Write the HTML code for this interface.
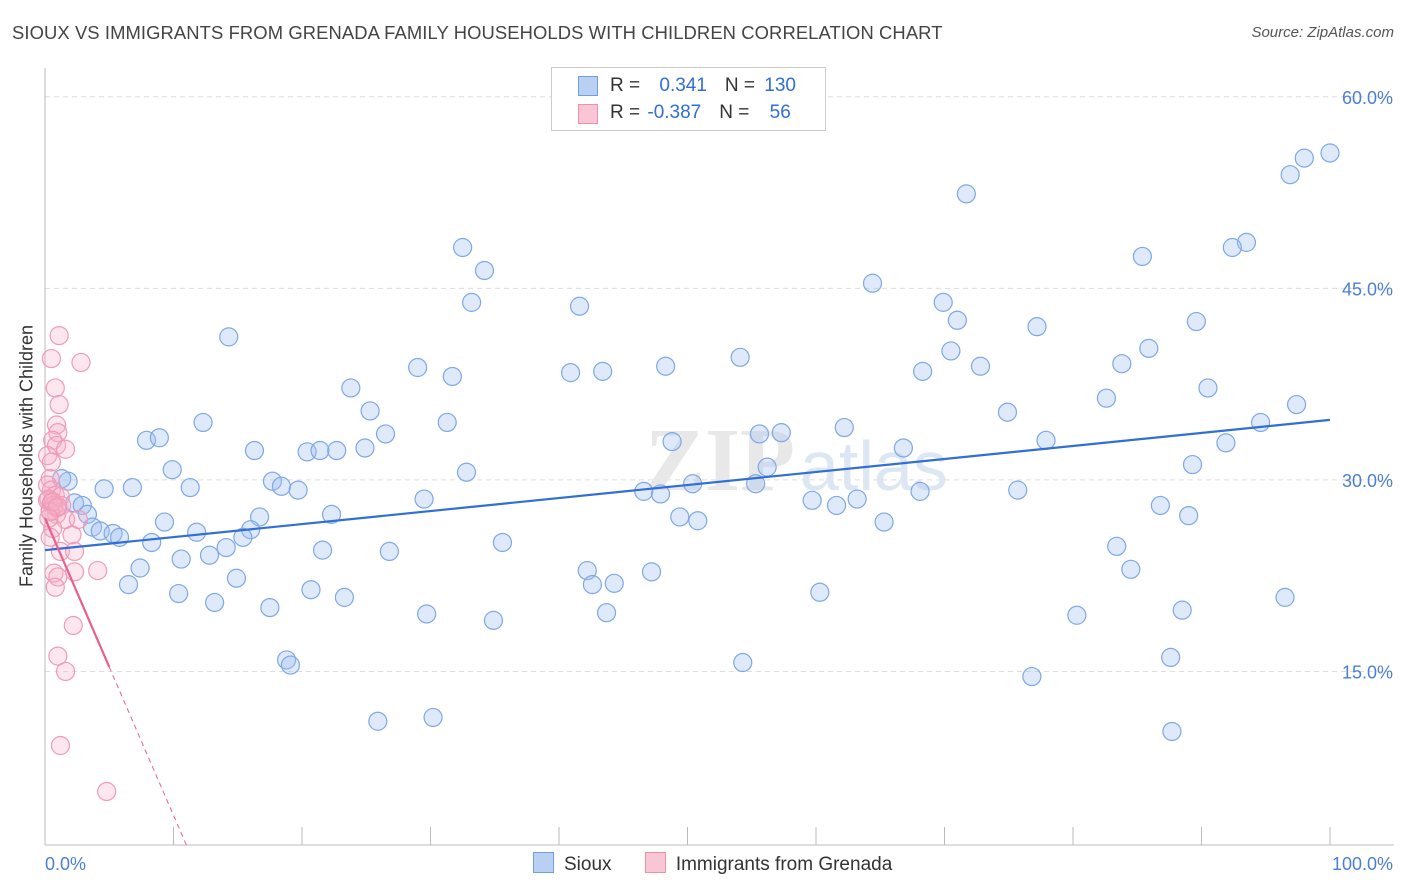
<!DOCTYPE html>
<html><head><meta charset="utf-8"><style>
body{margin:0;background:#fff;font-family:"Liberation Sans",sans-serif;}
#wrap{position:relative;width:1406px;height:892px;overflow:hidden;}
</style></head><body>
<div id="wrap">
<div style="position:absolute;left:12px;top:22px;font-size:18.4px;color:#444;letter-spacing:0.1px">SIOUX VS IMMIGRANTS FROM GRENADA FAMILY HOUSEHOLDS WITH CHILDREN CORRELATION CHART</div>
<div style="position:absolute;right:12px;top:24px;font-size:15px;color:#555;font-style:italic">Source: ZipAtlas.com</div>
<svg id="svg" width="1406" height="892" style="position:absolute;left:0;top:0"></svg>
</div>
<script>
const yTicks=[15,30,45,60];
const yTickLabels=["15.0%","30.0%","45.0%","60.0%"];
const xTickLabels=["0.0%","100.0%"];
const siouxX=[100,98,96.9,71.7,93.5,92.4,85.4,32.5,34.2,64.4,33.2,41.6,69.9,71,77.2,89.6,14.3,70.5,54.1,85.9,29,31.7,40.9,43.4,48.3,68.3,72.8,83.8,90.5,23.8,25.3,82.6,97.4,74.9,12.3,31.3,94.6,62.2,7.9,8.9,26.5,55.6,57.3,48.8,77.9,91.9,16.3,20.4,21.4,22.7,24.9,66.8,9.9,32.8,56.2,89.3,4.6,6.8,11.3,17.7,18.4,19.7,29.5,46.6,47.9,50.4,55.3,59.7,61.6,63.2,68.1,75.7,86.8,89,49.4,50.8,65.3,22.3,16.7,9.3,11.8,16,15.4,14.1,8.3,12.8,10.6,21.6,26.8,35.6,83.4,7.4,14.9,6.5,42.2,42.6,44.3,47.2,84.5,10.4,13.2,20.7,23.3,17.5,29.7,34.9,43.7,60.3,80.3,88.5,96.5,18.8,19.1,54.3,76.8,87.6,25.9,30.2,87.7,1.8,2.3,2.9,3.3,3.7,4.3,5.3,5.8,1.3];
const siouxY=[55.6,55.2,53.9,52.4,48.6,48.2,47.5,48.2,46.4,45.4,43.9,43.6,43.9,42.5,42,42.4,41.2,40.1,39.6,40.3,38.8,38.1,38.4,38.5,38.9,38.5,38.9,39.1,37.2,37.2,35.4,36.4,35.9,35.3,34.5,34.5,34.5,34.1,33.1,33.3,33.6,33.6,33.7,33,33.1,32.9,32.3,32.2,32.3,32.3,32.5,32.5,30.8,30.6,31,31.2,29.3,29.4,29.4,29.9,29.5,29.2,28.5,29.1,28.9,29.7,29.7,28.4,28,28.5,29.1,29.2,28,27.2,27.1,26.8,26.7,27.3,27.1,26.7,25.9,26.1,25.5,24.7,25.1,24.1,23.8,24.5,24.4,25.1,24.8,23.1,22.3,21.8,22.9,21.8,21.9,22.8,23,21.1,20.4,21.4,20.8,20,19.5,19,19.6,21.2,19.4,19.8,20.8,15.9,15.5,15.7,14.6,16.1,11.1,11.4,10.3,29.9,28.2,28,27.3,26.3,26,25.8,25.5,30.1];
const grenX=[1.1,0.5,2.8,0.8,1.1,0.9,1,0.6,0.9,1.6,0.2,0.5,0.4,0.2,0.5,0.8,1.2,0.2,1.3,0.4,0.9,1.6,2.6,0.6,0.4,2.1,1.2,2.3,4.1,0.7,1,2.3,0.8,2.2,1,1.6,1.2,4.8,0.3,0.5,0.7,0.9,0.4,0.6,1.0,0.3];
const grenY=[41.3,39.5,39.2,37.2,35.9,34.3,33.7,33.1,32.7,32.4,31.9,31.4,30.1,29.6,29.2,28.8,28.7,28.4,28,27.6,27.3,26.9,26.9,26.2,25.5,25.7,24.4,24.4,22.9,22.7,22.4,22.8,21.6,18.6,16.2,15,9.2,5.6,28.5,28.2,28.0,27.8,27.5,28.3,27.9,27.0];
const siouxTrend=[24.5,34.7];
const grenTrendStart=27,grenTrendEndSolid=5,grenSlope=-2.33;
const svg=document.getElementById('svg');const NS='http://www.w3.org/2000/svg';
const X=v=>45+v*12.85, Y=v=>863-v*12.77;
function mk(t,a){const e=document.createElementNS(NS,t);for(const k in a)e.setAttribute(k,a[k]);svg.appendChild(e);return e;}
yTicks.forEach((t,i)=>{let l=mk('line',{x1:45,x2:1394,y1:Y(t),y2:Y(t),stroke:'#ddd','stroke-dasharray':'5,4'});


let tx=mk('text',{x:1393,y:Y(t)+7,'text-anchor':'end','font-size':18,fill:'#4a7fd4','font-family':'Liberation Sans'});tx.textContent=yTickLabels[i];

});
mk('line',{x1:45,x2:45,y1:68,y2:845,stroke:'#bbb'});
mk('line',{x1:45,x2:1394,y1:845,y2:845,stroke:'#bbb'});
for(let i=0;i<=10;i++){let l=mk('line',{x1:X(i*10),x2:X(i*10),y1:827,y2:845,stroke:'#bbb'});

}
[[45,'start',0],[1393,'end',1]].forEach(([x,a,i])=>{let t=mk('text',{x:x,y:870,'text-anchor':a,'font-size':18,fill:'#4a7fd4','font-family':'Liberation Sans'});t.textContent=xTickLabels[i];

});
let wm=mk('text',{x:720,y:490,'text-anchor':'middle','font-size':90,fill:'#e8e8e8','font-family':'Liberation Serif','font-weight':'bold'});wm.textContent='ZIP';


let wm2=mk('text',{x:800,y:490,'font-size':70,fill:'#dde6f3','font-family':'Liberation Sans'});wm2.textContent='atlas';


siouxX.forEach((x,i)=>{let c=mk('circle',{cx:X(x),cy:Y(siouxY[i]),r:9,fill:'rgba(160,192,238,0.35)',stroke:'#7ea8e6','stroke-width':1.2});

});
grenX.forEach((x,i)=>{let c=mk('circle',{cx:X(x),cy:Y(grenY[i]),r:9,fill:'rgba(245,175,198,0.3)',stroke:'#f09ab8','stroke-width':1.2});

});
let bl=mk('line',{x1:X(0),y1:Y(siouxTrend[0]),x2:X(100),y2:Y(siouxTrend[1]),stroke:'#2f6fd6','stroke-width':2.2});


let pl=mk('line',{x1:X(0),y1:Y(grenTrendStart),x2:X(grenTrendEndSolid),y2:Y(grenTrendStart+grenSlope*grenTrendEndSolid),stroke:'#e8608c','stroke-width':2.2});


let pd=mk('line',{x1:X(grenTrendEndSolid),y1:Y(grenTrendStart+grenSlope*grenTrendEndSolid),x2:X(11),y2:845,stroke:'#e8608c','stroke-width':1,'stroke-dasharray':'5,4'});


</script>
<div style="position:absolute;left:27px;top:456px;transform:translate(-50%,-50%) rotate(-90deg);font-size:18px;color:#333;white-space:nowrap">Family Households with Children</div>
<div style="position:absolute;left:551px;top:67px;width:273px;height:62px;border:1px solid #ccc;background:#fff;font-size:19px;color:#333">
 <div style="position:absolute;left:26px;top:8px;width:18px;height:18px;background:#b9d0f2;border:1px solid #6f9ee3"></div>
 <div style="position:absolute;left:58px;top:7px">R = <span style="color:#2f6fd6;margin-left:14px">0.341</span><span style="margin-left:18px">N = </span><span style="color:#2f6fd6;margin-left:4px">130</span></div>
 <div style="position:absolute;left:26px;top:36px;width:18px;height:18px;background:#f9c6d6;border:1px solid #ee8fb0"></div>
 <div style="position:absolute;left:58px;top:34px">R = <span style="color:#2f6fd6;margin-left:2px">-0.387</span><span style="margin-left:18px">N = </span><span style="color:#2f6fd6;margin-left:15px">56</span></div>
</div>
<div style="position:absolute;left:533px;top:852px;font-size:19px;color:#333;white-space:nowrap">
 <span style="display:inline-block;width:19px;height:19px;background:#b9d0f2;border:1px solid #6f9ee3;vertical-align:-3px"></span><span style="margin-left:10px">Sioux</span>
 <span style="display:inline-block;width:19px;height:19px;background:#f9c6d6;border:1px solid #ee8fb0;vertical-align:-3px;margin-left:28px"></span><span style="margin-left:10px">Immigrants from Grenada</span>
</div>
</body></html>
